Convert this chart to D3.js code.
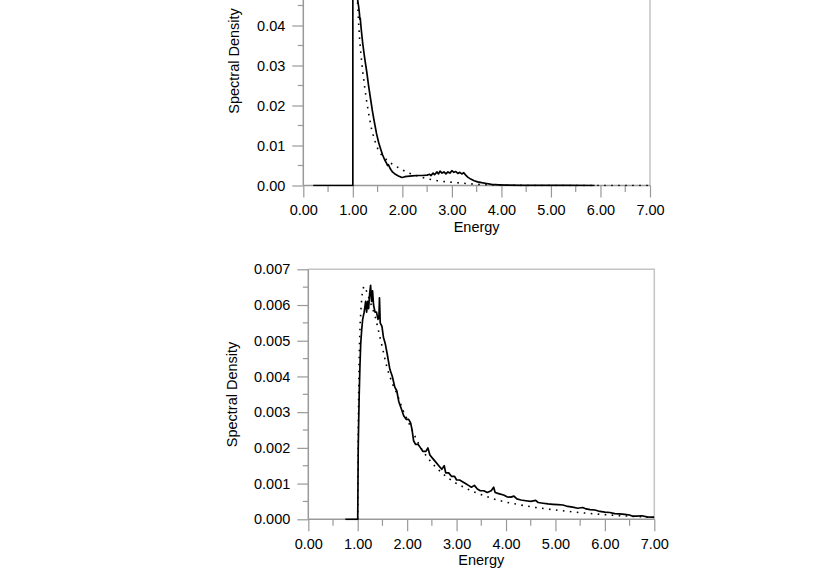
<!DOCTYPE html>
<html>
<head>
<meta charset="utf-8">
<script src="https://cdn.jsdelivr.net/npm/d3@7"></script>
<style>
  html, body { margin: 0; padding: 0; background: #fff; }
  svg { display: block; font-family: "Liberation Sans", Arial, sans-serif; }
</style>
</head>
<body>
<svg id="chart" width="830" height="579"></svg>
<script>
// energy ticks shared by both panels
const xTicks = [0, 1, 2, 3, 4, 5, 6, 7]
const xMinor = [0.5, 1.5, 2.5, 3.5, 4.5, 5.5, 6.5]

// upper panel
const topYTicks = [0, 0.01, 0.02, 0.03, 0.04]
const topYMinor = [0.005, 0.015, 0.025, 0.035, 0.045]
const topSolid = [
  [0.2, 0], [1.0, 0], [1.0, 0.058], [1.04, 0.054], [1.08, 0.0475], [1.10, 0.0462],
  [1.12, 0.0445], [1.135, 0.0428], [1.14, 0.0416], [1.15, 0.0418], [1.17, 0.039],
  [1.2, 0.0355], [1.24, 0.0318], [1.28, 0.0285], [1.32, 0.0248], [1.36, 0.0215],
  [1.40, 0.0183], [1.44, 0.0155], [1.48, 0.0129], [1.52, 0.0108], [1.56, 0.0092],
  [1.60, 0.0077], [1.64, 0.0065], [1.68, 0.0056], [1.70, 0.0050], [1.72, 0.0052],
  [1.75, 0.0043], [1.80, 0.0034], [1.86, 0.0028], [1.92, 0.0024], [1.97, 0.0021],
  [2.0, 0.0020], [2.05, 0.0022], [2.1, 0.0023], [2.2, 0.0024], [2.3, 0.0025],
  [2.4, 0.0025], [2.5, 0.0026], [2.55, 0.0028], [2.58, 0.0025], [2.62, 0.0031],
  [2.65, 0.0027], [2.7, 0.0034], [2.73, 0.0029], [2.76, 0.0036], [2.8, 0.0031],
  [2.84, 0.0034], [2.88, 0.0029], [2.92, 0.0034], [2.96, 0.0031], [3.0, 0.0037],
  [3.04, 0.0033], [3.08, 0.0035], [3.12, 0.0030], [3.16, 0.0033], [3.2, 0.0029],
  [3.24, 0.0032], [3.28, 0.0026], [3.32, 0.0021], [3.38, 0.0016], [3.45, 0.0012],
  [3.52, 0.0009], [3.6, 0.0007], [3.7, 0.0005], [3.8, 0.0003], [3.95, 0.00018],
  [4.1, 0.0001], [4.4, 0.00005], [4.8, 0.00002], [5.3, 0.00001], [5.88, 0]
]
const topDotted = [
  [1.05, 0.058], [1.08, 0.050], [1.10, 0.0445], [1.12, 0.040], [1.14, 0.036],
  [1.17, 0.032], [1.20, 0.0285], [1.24, 0.0245], [1.28, 0.021], [1.33, 0.0172],
  [1.38, 0.014], [1.44, 0.0113], [1.50, 0.0093], [1.57, 0.0078], [1.65, 0.0068],
  [1.72, 0.006], [1.80, 0.0053], [1.90, 0.0046], [2.0, 0.0039], [2.1, 0.0033],
  [2.2, 0.0028], [2.35, 0.0022], [2.5, 0.0017], [2.7, 0.0012], [2.9, 0.0009],
  [3.1, 0.0007], [3.3, 0.0005], [3.5, 0.0003], [3.8, 0.00015], [4.2, 0.00005],
  [4.6, 0], [7.0, 0]
]

// lower panel
const bottomYTicks = [0, 0.001, 0.002, 0.003, 0.004, 0.005, 0.006, 0.007]
const bottomYMinor = [0.0005, 0.0015, 0.0025, 0.0035, 0.0045, 0.0055, 0.0065]
const bottomSolid = [
  [0.75, 0], [1.0, 0], [1.005, 0.0010], [1.01, 0.0020], [1.02, 0.0028], [1.03, 0.0035],
  [1.045, 0.0043], [1.06, 0.0049], [1.08, 0.0053], [1.10, 0.0056], [1.13, 0.0058],
  [1.15, 0.0060], [1.16, 0.0061], [1.18, 0.0058], [1.20, 0.0061], [1.22, 0.0059],
  [1.24, 0.0063], [1.26, 0.00655], [1.28, 0.0061], [1.30, 0.0064], [1.32, 0.0060],
  [1.35, 0.0058], [1.38, 0.0058], [1.41, 0.0056], [1.43, 0.0057], [1.44, 0.0062],
  [1.455, 0.0055], [1.49, 0.0054], [1.52, 0.0051], [1.56, 0.0049], [1.60, 0.0046],
  [1.65, 0.0042], [1.70, 0.0040], [1.75, 0.0037], [1.79, 0.0036], [1.83, 0.0033],
  [1.88, 0.0031], [1.93, 0.0029], [1.98, 0.0028], [2.03, 0.0028], [2.07, 0.0027],
  [2.10, 0.0025], [2.13, 0.0022], [2.17, 0.0021], [2.22, 0.0021], [2.27, 0.0020],
  [2.32, 0.0019], [2.38, 0.0019], [2.42, 0.0020], [2.46, 0.0018], [2.52, 0.0017],
  [2.58, 0.0016], [2.64, 0.0015], [2.70, 0.0014], [2.75, 0.0015], [2.78, 0.0013],
  [2.84, 0.0013], [2.90, 0.0012], [2.96, 0.0012], [3.0, 0.0011], [3.06, 0.0011],
  [3.12, 0.00105], [3.18, 0.0010], [3.24, 0.00095], [3.30, 0.0009], [3.36, 0.00095],
  [3.42, 0.00085], [3.48, 0.0008], [3.55, 0.0008], [3.62, 0.00075], [3.7, 0.0008],
  [3.75, 0.0009], [3.78, 0.00075], [3.85, 0.00072], [3.95, 0.00068], [4.02, 0.00063],
  [4.1, 0.00062], [4.16, 0.00065], [4.22, 0.00057], [4.3, 0.00054], [4.4, 0.00052],
  [4.5, 0.0005], [4.6, 0.00053], [4.65, 0.00047], [4.75, 0.00045], [4.85, 0.00043],
  [4.95, 0.00042], [5.05, 0.00041], [5.15, 0.0004], [5.25, 0.00036], [5.35, 0.00034],
  [5.45, 0.00031], [5.55, 0.00033], [5.6, 0.0003], [5.7, 0.00027], [5.8, 0.00026],
  [5.9, 0.00022], [6.0, 0.0002], [6.1, 0.00019], [6.2, 0.00016], [6.3, 0.00015],
  [6.4, 0.00014], [6.5, 0.00012], [6.55, 0.00009], [6.65, 0.00009], [6.75, 0.0001],
  [6.85, 0.00007], [6.95, 0.00006], [7.0, 0.00006]
]
const bottomDotted = [
  [1.0, 0], [1.01, 0.0025], [1.02, 0.0036], [1.026, 0.0042], [1.035, 0.0049],
  [1.05, 0.0055], [1.07, 0.0060], [1.09, 0.0063], [1.12, 0.00652], [1.15, 0.0065],
  [1.2, 0.0063], [1.25, 0.0061], [1.3, 0.0059], [1.35, 0.0057], [1.4, 0.0054],
  [1.45, 0.0051], [1.5, 0.0048], [1.55, 0.0045], [1.6, 0.0042], [1.7, 0.0038],
  [1.8, 0.0035], [1.9, 0.0031], [2.0, 0.0028], [2.1, 0.0025], [2.2, 0.0022],
  [2.3, 0.00195], [2.4, 0.00175], [2.5, 0.00158], [2.6, 0.00143], [2.8, 0.00118],
  [3.0, 0.001], [3.2, 0.00086], [3.4, 0.00074], [3.6, 0.00064], [3.8, 0.00055],
  [4.0, 0.00048], [4.3, 0.0004], [4.6, 0.00033], [5.0, 0.00026], [5.4, 0.0002],
  [5.8, 0.00015], [6.2, 0.00011], [6.6, 0.00008], [7.0, 0.00005]
]

const svg = d3.select("#chart")

function drawPanel(id, p) {
  const x = d3.scaleLinear().domain([0, 7]).range([p.left, p.right])
  const y = d3.scaleLinear().domain([0, p.yMax]).range([p.base, p.top])
  const g = svg.append("g")

  // frame: light top/right edges
  g.append("path")
    .attr("d", `M${p.left},${p.top}H${p.right}V${p.base}`)
    .attr("fill", "none").attr("stroke", "#c4c4c4").attr("stroke-width", 1.5)

  const yAxis = g.append("g")
    .attr("transform", `translate(${p.left},0)`)
    .call(d3.axisLeft(y).tickValues(p.yTicks).tickFormat(d3.format(p.fmt))
      .tickSizeOuter(0).tickSize(11).tickPadding(7))
  yAxis.append("g").selectAll("line").data(p.yMinor).join("line")
    .attr("x1", -5.5).attr("x2", 0)
    .attr("y1", d => y(d)).attr("y2", d => y(d))

  const xAxis = g.append("g")
    .attr("transform", `translate(0,${p.base})`)
    .call(d3.axisBottom(x).tickValues(xTicks).tickFormat(d3.format(".2f"))
      .tickSizeOuter(0).tickSize(12).tickPadding(7))
  xAxis.append("g").selectAll("line").data(xMinor).join("line")
    .attr("x1", d => x(d)).attr("x2", d => x(d))
    .attr("y1", 0).attr("y2", 6.5)

  for (const ax of [xAxis, yAxis]) {
    ax.select(".domain").attr("stroke", "#999").attr("stroke-width", 1.5)
    ax.selectAll("line").attr("stroke", "#999").attr("stroke-width", 1.2)
    ax.selectAll("text").attr("fill", "#000").attr("font-size", 14.5)
      .attr("font-family", "Liberation Sans, Arial, sans-serif")
  }
  yAxis.select(".domain").attr("d", `M0,${p.top}V${p.base}`)
  xAxis.select(".domain").attr("d", `M${p.left},0H${p.right}`)

  g.append("text")
    .attr("x", (p.left + p.right) / 2).attr("y", p.base + 46)
    .attr("text-anchor", "middle").attr("font-size", 14.5).text("Energy")

  g.append("text")
    .attr("transform", `translate(${p.titleX},${p.titleY}) rotate(-90)`)
    .attr("text-anchor", "middle").attr("font-size", 14.5).text("Spectral Density")

  g.append("clipPath").attr("id", id)
    .append("rect")
    .attr("x", p.left).attr("y", p.top)
    .attr("width", p.right - p.left).attr("height", p.base - p.top + 1)

  const line = d3.line().x(d => x(d[0])).y(d => y(d[1]))
  const plot = g.append("g").attr("clip-path", `url(#${id})`)

  plot.append("path").datum(p.dotted)
    .attr("d", line).attr("fill", "none").attr("stroke", "#000")
    .attr("stroke-width", 1.6).attr("stroke-dasharray", "1.6 5.4")

  plot.append("path").datum(p.solid)
    .attr("d", line).attr("fill", "none").attr("stroke", "#000")
    .attr("stroke-width", 1.7).attr("stroke-linejoin", "round")
}

drawPanel("clipTop", {
  left: 303.3, right: 650, base: 185.5, top: -54.5, yMax: 0.06,
  yTicks: topYTicks, yMinor: topYMinor, fmt: ".2f", solid: topSolid, dotted: topDotted,
  titleX: 239, titleY: 61
})

drawPanel("clipBottom", {
  left: 308.3, right: 654.3, base: 519.3, top: 269.3, yMax: 0.007,
  yTicks: bottomYTicks, yMinor: bottomYMinor, fmt: ".3f", solid: bottomSolid, dotted: bottomDotted,
  titleX: 236.5, titleY: 394.5
})
</script>
</body>
</html>
